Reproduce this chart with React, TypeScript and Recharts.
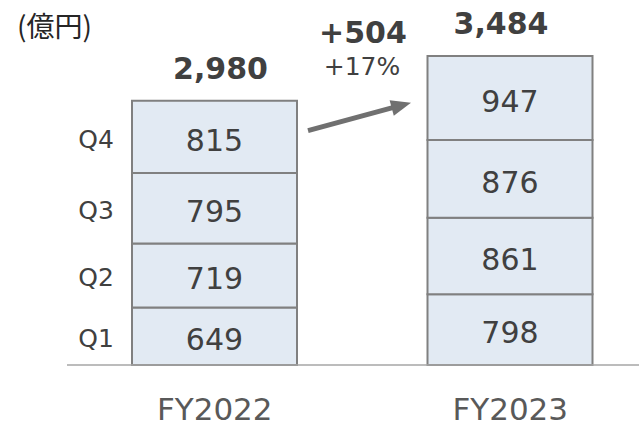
import React from "react";
import { BarChart, Bar, XAxis, YAxis, LabelList } from "recharts";

const categories = ["FY2022", "FY2023"];
const quarterNames = ["Q1", "Q2", "Q3", "Q4"];
const q1Values = [649, 798];
const q2Values = [719, 861];
const q3Values = [795, 876];
const q4Values = [815, 947];
const totalLabels = ["2,980", "3,484"];
const growthAbs = "+504";
const growthPct = "+17%";
const unitLabel = "(億円)";

const data = categories.map((c, i) => ({
  name: c,
  Q1: q1Values[i],
  Q2: q2Values[i],
  Q3: q3Values[i],
  Q4: q4Values[i],
}));

const FONT = "'DejaVu Sans', Verdana, sans-serif";
const TEXT = "#404040";
const totalDx = [6, -9];

function geom(props: any) {
  const vb = props.viewBox || {};
  return {
    x: Number(props.x ?? vb.x),
    y: Number(props.y ?? vb.y),
    w: Number(props.width ?? vb.width),
    h: Number(props.height ?? vb.height),
    index: props.index,
  };
}

const valueLabel = (props: any) => {
  const { x, y, w, h } = geom(props);
  return (
    <text
      x={x + w / 2}
      y={y + h / 2 + 3}
      dy="0.36em"
      textAnchor="middle"
      fontFamily={FONT}
      fontSize={30}
      fill={TEXT}
    >
      {props.value}
    </text>
  );
};

const makeQuarterLabel = (name: string) => (props: any) => {
  const { x, y, h, index } = geom(props);
  if (index !== 0) return null;
  return (
    <text
      x={x - 36}
      y={y + h / 2 + 2}
      dy="0.36em"
      textAnchor="middle"
      fontFamily={FONT}
      fontSize={25}
      fill={TEXT}
    >
      {name}
    </text>
  );
};

const totalLabel = (props: any) => {
  const { x, y, w, index } = geom(props);
  const cx = x + w / 2 + totalDx[index];
  const els: any[] = [
    <text
      key="t"
      x={cx}
      y={y - 22}
      textAnchor="middle"
      fontFamily={FONT}
      fontSize={30}
      fontWeight="bold"
      fill={TEXT}
    >
      {totalLabels[index]}
    </text>,
  ];
  if (index === 0) {
    const sx = x + w + 11;
    const sy = y + 30;
    const tx = x + w + 114;
    const ty = y + 2;
    const dx = tx - sx;
    const dy = ty - sy;
    const len = Math.sqrt(dx * dx + dy * dy);
    const ux = dx / len;
    const uy = dy / len;
    const hl = 20;
    const hw = 8;
    const bx = tx - ux * hl;
    const by = ty - uy * hl;
    els.push(
      <line key="l" x1={sx} y1={sy} x2={bx + ux * 2} y2={by + uy * 2} stroke="#707070" strokeWidth={5} />
    );
    els.push(
      <polygon
        key="p"
        points={`${tx},${ty} ${bx - uy * hw},${by + ux * hw} ${bx + uy * hw},${by - ux * hw}`}
        fill="#707070"
      />
    );
    els.push(
      <text
        key="g1"
        x={x + w + 66}
        y={y - 58}
        textAnchor="middle"
        fontFamily={FONT}
        fontSize={30}
        fontWeight="bold"
        fill={TEXT}
      >
        {growthAbs}
      </text>
    );
    els.push(
      <text
        key="g2"
        x={x + w + 65}
        y={y - 26}
        textAnchor="middle"
        fontFamily={FONT}
        fontSize={25}
        fill={TEXT}
      >
        {growthPct}
      </text>
    );
  }
  return <g>{els}</g>;
};

const CategoryTick = (props: any) => {
  const { x, y, payload } = props;
  return (
    <text x={x} y={y + 47} textAnchor="middle" fontFamily={FONT} fontSize={31} fill="#595959">
      {payload.value}
    </text>
  );
};

const seriesKeys = ["Q1", "Q2", "Q3", "Q4"];

export default function App() {
  return (
    <div
      style={{
        position: "absolute",
        left: 0,
        top: 0,
        width: 639,
        height: 422,
        overflow: "hidden",
        background: "#fff",
      }}
    >
      <BarChart
        width={659}
        height={422}
        data={data}
        margin={{ top: 10, right: 1, left: 67, bottom: 7 }}
        barSize={165}
      >
        <YAxis hide domain={[0, 4000]} />
        <XAxis
          dataKey="name"
          height={50}
          axisLine={{ stroke: "#a6a6a6", strokeWidth: 1.5 }}
          tickLine={false}
          tick={<CategoryTick />}
          interval={0}
        />
        {seriesKeys.map((k, i) => (
          <Bar
            key={k}
            dataKey={k}
            stackId="a"
            fill="#E2EAF3"
            stroke="#808080"
            strokeWidth={2}
            isAnimationActive={false}
          >
            <LabelList dataKey={k} content={valueLabel} />
            <LabelList dataKey={k} content={makeQuarterLabel(quarterNames[i])} />
            {k === "Q4" ? <LabelList dataKey={k} content={totalLabel} /> : null}
          </Bar>
        ))}
      </BarChart>
      <svg style={{ position: "absolute", left: 0, top: 0 }} width={200} height={60}>
        <text x={17} y={37} fontFamily="'Noto Sans CJK JP', sans-serif" fontSize={28} fill="#262626">
          {unitLabel}
        </text>
      </svg>
    </div>
  );
}
